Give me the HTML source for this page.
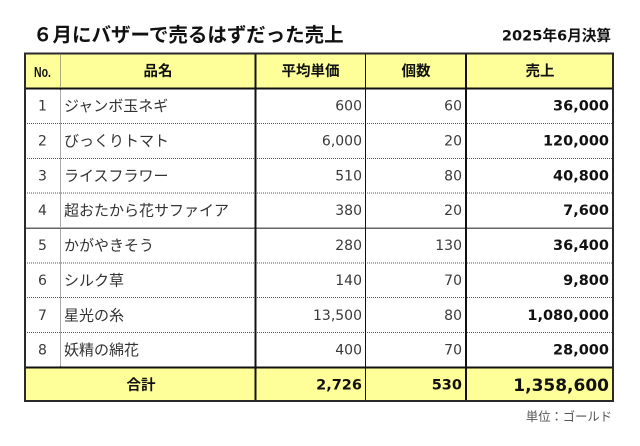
<!DOCTYPE html>
<html><head><meta charset="utf-8"><style>
html,body{margin:0;padding:0;background:#fff;}
svg{display:block;}
.j{font-family:"Liberation Sans","Noto Sans CJK JP",sans-serif;}
.n{font-family:"DejaVu Sans","Noto Sans CJK JP",sans-serif;}
</style></head><body>
<svg width="640" height="446" viewBox="0 0 640 446" xmlns="http://www.w3.org/2000/svg">
<rect width="640" height="446" fill="#fff"/>
<!-- title -->
<text x="33" y="41.5" class="j" font-size="19.5" font-weight="bold" fill="#111">６月にバザーで売るはずだった売上</text>
<text x="611" y="40.5" class="n" font-size="14.6" font-weight="bold" fill="#111" text-anchor="end">2025年6月決算</text>
<!-- fills -->
<rect x="25" y="53.5" width="588" height="35" fill="#FFFF99"/>
<rect x="25" y="367.5" width="588" height="33.5" fill="#FFFF99"/>
<!-- row separators dotted -->
<g stroke="#555" stroke-width="1" stroke-dasharray="1,1">
<line x1="25" x2="613" y1="123.5" y2="123.5"/>
<line x1="25" x2="613" y1="158.5" y2="158.5"/>
<line x1="25" x2="613" y1="193" y2="193"/>
<line x1="25" x2="613" y1="263" y2="263"/>
<line x1="25" x2="613" y1="297.5" y2="297.5"/>
<line x1="25" x2="613" y1="332.5" y2="332.5"/>
<line x1="60.5" x2="60.5" y1="53.5" y2="367.5"/>
</g>
<line x1="25" x2="613" y1="228.2" y2="228.2" stroke="#666" stroke-width="1.5"/>
<!-- verticals -->
<line x1="255.5" x2="255.5" y1="53.5" y2="401" stroke="#111" stroke-width="2"/>
<line x1="365.5" x2="365.5" y1="53.5" y2="401" stroke="#111" stroke-width="1"/>
<line x1="466" x2="466" y1="53.5" y2="401" stroke="#111" stroke-width="2"/>
<!-- thick horizontals -->
<line x1="25" x2="613" y1="88.5" y2="88.5" stroke="#111" stroke-width="2"/>
<line x1="25" x2="613" y1="367.5" y2="367.5" stroke="#111" stroke-width="2"/>
<!-- outer -->
<rect x="25" y="53.5" width="588" height="347.5" fill="none" stroke="#2a2a2a" stroke-width="2"/>

<!-- header -->
<text x="42.5" y="77" font-family="Liberation Sans, sans-serif" font-size="15" font-weight="bold" fill="#111" text-anchor="middle" transform="translate(42.5 0) scale(0.7 1) translate(-42.5 0)">No.</text>
<g class="j" font-size="14.5" font-weight="bold" fill="#111" text-anchor="middle">
<text x="158" y="76">品名</text>
<text x="310.5" y="76">平均単価</text>
<text x="416" y="76">個数</text>
<text x="540" y="76">売上</text>
</g>

<!-- rows -->
<g class="n" font-size="14" fill="#3a3a3a" text-anchor="middle">
<text x="42.5" y="110.5">1</text>
<text x="42.5" y="145.5">2</text>
<text x="42.5" y="180.3">3</text>
<text x="42.5" y="215.2">4</text>
<text x="42.5" y="250">5</text>
<text x="42.5" y="285">6</text>
<text x="42.5" y="319.8">7</text>
<text x="42.5" y="354.7">8</text>
</g>
<g class="j" font-size="15" fill="#333">
<text x="64" y="111">ジャンボ玉ネギ</text>
<text x="64" y="146">びっくりトマト</text>
<text x="64" y="180.8">ライスフラワー</text>
<text x="64" y="215.7">超おたから花サファイア</text>
<text x="64" y="250.5">かがやきそう</text>
<text x="64" y="285.5">シルク草</text>
<text x="64" y="320.3">星光の糸</text>
<text x="64" y="355.2">妖精の綿花</text>
</g>
<g class="n" font-size="14" fill="#3a3a3a" text-anchor="end">
<text x="362" y="110.5">600</text>
<text x="362" y="145.5">6,000</text>
<text x="362" y="180.3">510</text>
<text x="362" y="215.2">380</text>
<text x="362" y="250">280</text>
<text x="362" y="285">140</text>
<text x="362" y="319.8">13,500</text>
<text x="362" y="354.7">400</text>
<text x="462" y="110.5">60</text>
<text x="462" y="145.5">20</text>
<text x="462" y="180.3">80</text>
<text x="462" y="215.2">20</text>
<text x="462" y="250">130</text>
<text x="462" y="285">70</text>
<text x="462" y="319.8">80</text>
<text x="462" y="354.7">70</text>
</g>
<g class="n" font-size="14.5" font-weight="bold" fill="#111" text-anchor="end">
<text x="609" y="110.5">36,000</text>
<text x="609" y="145.5">120,000</text>
<text x="609" y="180.3">40,800</text>
<text x="609" y="215.2">7,600</text>
<text x="609" y="250">36,400</text>
<text x="609" y="285">9,800</text>
<text x="609" y="319.8">1,080,000</text>
<text x="609" y="354.7">28,000</text>
</g>

<!-- total -->
<text x="141" y="390" class="j" font-size="14.5" font-weight="bold" fill="#111" text-anchor="middle">合計</text>
<g class="n" font-weight="bold" fill="#111" text-anchor="end">
<text x="362" y="389.5" font-size="14.5">2,726</text>
<text x="462" y="389.5" font-size="14.5">530</text>
<text x="609" y="391" font-size="17">1,358,600</text>
</g>

<!-- footer -->
<text x="612" y="421" class="j" font-size="12.3" fill="#555" text-anchor="end">単位：ゴールド</text>
</svg>
</body></html>
